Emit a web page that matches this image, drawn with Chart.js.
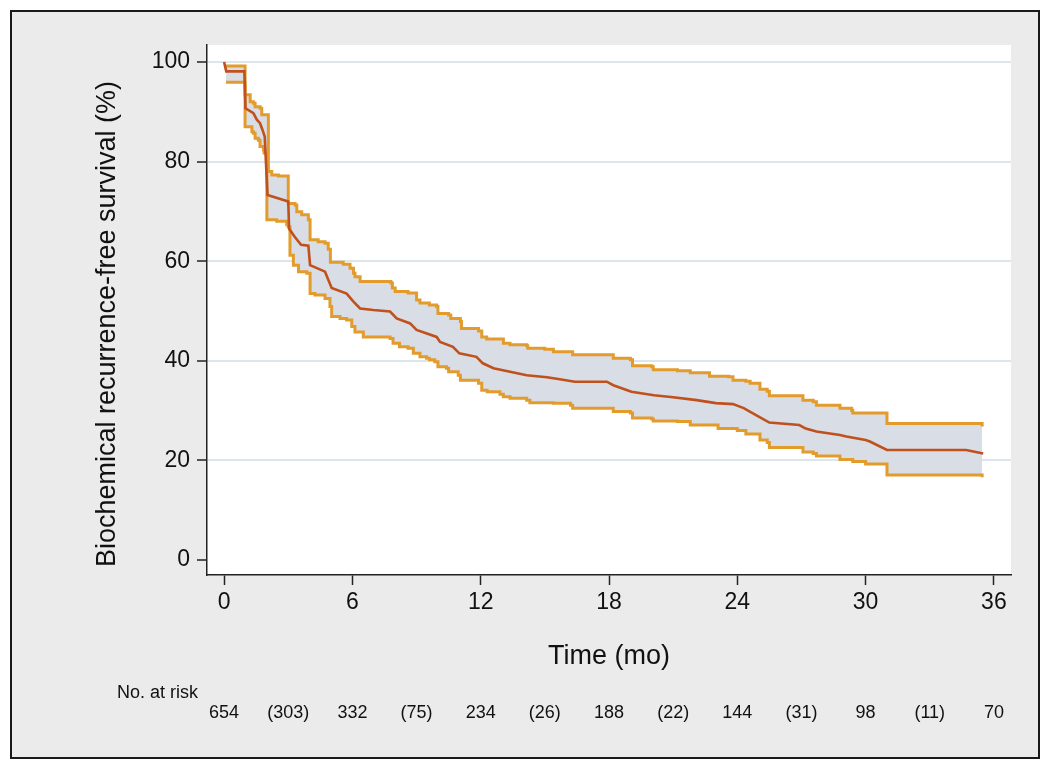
<!DOCTYPE html>
<html>
<head>
<meta charset="utf-8">
<script src="https://cdn.jsdelivr.net/npm/chart.js@4.4.0/dist/chart.umd.min.js"></script>
<style>
  html, body { margin: 0; padding: 0; background: #fff; }
  canvas { display: block; }
</style>
</head>
<body>
<canvas id="km" width="1050" height="771"></canvas>
<script>
// Kaplan-Meier estimate (time in months, survival in %)
const survTime = [0, 0.1, 0.95, 1.0, 1.37, 1.53, 1.68, 1.8, 1.9, 2.03, 3.0, 3.04, 3.3, 3.6, 3.94, 4.02, 4.72, 5.03, 5.73, 6.05, 6.36, 6.98, 7.76, 8.07, 8.7, 9.0, 9.94, 10.1, 10.7, 11.0, 11.8, 12.1, 12.6, 13.37, 14.15, 15.1, 15.7, 16.4, 17.9, 18.2, 19.05, 20.1, 21.0, 22.1, 23.0, 23.8, 24.3, 25.0, 25.5, 26.9, 27.2, 27.7, 28.8, 29.1, 30.0, 30.2, 31.0, 34.7, 35.5];
const survPct = [100, 98.1, 98.1, 90.7, 89.7, 88.4, 87.7, 86.3, 85.0, 73.3, 72.0, 66.5, 64.9, 63.3, 63.1, 59.2, 57.9, 54.6, 53.5, 51.9, 50.5, 50.2, 49.9, 48.5, 47.5, 46.2, 44.8, 43.8, 42.8, 41.5, 40.8, 39.5, 38.5, 37.8, 37.1, 36.7, 36.3, 35.8, 35.8, 35.1, 33.8, 33.1, 32.7, 32.1, 31.5, 31.3, 30.5, 28.8, 27.6, 27.1, 26.4, 25.8, 25.1, 24.8, 24.1, 23.8, 22.1, 22.1, 21.4];

// 95% CI, upper bound (step points: time of drop, value after)
const upperTime = [0.09, 0.98, 1.22, 1.37, 1.45, 1.68, 1.76, 2.07, 2.23, 2.54, 3.0, 3.32, 3.4, 3.63, 3.94, 4.02, 4.4, 4.72, 4.87, 4.97, 5.57, 5.89, 6.05, 6.12, 6.36, 7.8, 7.87, 8.0, 8.6, 9.0, 9.16, 9.6, 9.94, 10.0, 10.5, 10.6, 11.05, 11.1, 11.9, 12.05, 12.28, 13.06, 13.37, 14.15, 14.2, 15.0, 15.4, 16.3, 18.2, 19.0, 19.1, 20.0, 20.07, 21.2, 21.8, 22.7, 23.6, 23.8, 24.4, 24.6, 25.06, 25.4, 25.5, 27.07, 27.55, 27.7, 28.8, 29.35, 29.4, 31.0, 35.4, 35.45];
const upperPct = [99.2, 93.4, 92.0, 91.7, 91.0, 90.7, 89.4, 78.0, 77.3, 77.1, 71.6, 71.3, 69.9, 69.3, 68.3, 64.3, 63.9, 63.6, 62.4, 59.8, 59.4, 58.6, 57.6, 56.9, 55.9, 55.6, 54.6, 53.9, 53.6, 52.2, 51.6, 51.2, 50.9, 49.5, 49.2, 48.5, 47.9, 46.5, 46.0, 44.8, 44.4, 43.5, 43.2, 43.0, 42.5, 42.3, 41.8, 41.2, 40.5, 40.2, 39.0, 38.8, 38.2, 38.0, 37.6, 36.9, 36.8, 36.1, 35.9, 35.5, 34.3, 33.9, 33.0, 32.1, 31.8, 31.1, 30.5, 30.0, 29.5, 27.4, 27.4, 26.8];

// 95% CI, lower bound
const lowerTime = [0.09, 0.98, 1.3, 1.37, 1.45, 1.6, 1.68, 1.84, 1.87, 2.0, 2.46, 2.93, 3.0, 3.08, 3.24, 3.48, 3.87, 4.02, 4.25, 4.72, 4.95, 5.03, 5.42, 5.73, 5.97, 6.12, 6.51, 7.76, 7.9, 8.2, 8.6, 8.85, 9.16, 9.47, 9.6, 9.85, 10.0, 10.4, 10.5, 10.95, 11.05, 11.9, 12.05, 12.3, 12.9, 13.06, 13.37, 14.15, 14.3, 15.4, 16.2, 16.3, 18.2, 19.0, 19.1, 20.0, 20.07, 21.2, 21.8, 23.1, 24.0, 24.4, 25.06, 25.4, 25.5, 27.07, 27.55, 27.7, 28.8, 29.4, 30.0, 31.0, 35.4, 35.45];
const lowerPct = [95.9, 87.0, 86.0, 85.7, 84.7, 84.3, 83.0, 82.3, 81.7, 68.3, 68.0, 67.3, 66.9, 61.2, 59.2, 57.9, 57.6, 53.5, 53.2, 52.5, 50.9, 48.9, 48.5, 48.2, 46.9, 45.8, 44.8, 44.5, 43.5, 42.8, 42.5, 41.5, 40.8, 40.5, 40.2, 39.8, 38.8, 38.5, 37.8, 37.1, 36.1, 35.5, 34.1, 33.8, 33.3, 32.8, 32.5, 32.1, 31.6, 31.5, 31.1, 30.5, 29.8, 29.5, 28.5, 28.3, 27.9, 27.8, 27.1, 26.4, 26.0, 25.3, 24.1, 23.6, 22.6, 21.7, 21.4, 20.9, 20.2, 19.8, 19.3, 17.1, 17.1, 16.6];

const xTicks = [0, 6, 12, 18, 24, 30, 36];
const yTicks = [0, 20, 40, 60, 80, 100];

// number at risk (censored in brackets)
const riskTimes = [0, 3, 6, 9, 12, 15, 18, 21, 24, 27, 30, 33, 36];
const riskLabels = ['654', '(303)', '332', '(75)', '234', '(26)', '188', '(22)', '144', '(31)', '98', '(11)', '70'];

const FONT = '"Liberation Sans", Arial, Helvetica, sans-serif';
const yTitle = 'Biochemical recurrence-free survival (%)';
const toXY = (ts, vs) => ts.map((t, i) => ({ x: t, y: vs[i] }));

const kmBackdrop = {
    id: 'kmBackdrop',
    beforeDraw(chart) {
        const { ctx, chartArea: { left, top, right, bottom } } = chart;
        ctx.save();
        ctx.fillStyle = '#ebebeb';
        ctx.fillRect(11, 11, 1028, 747);
        ctx.strokeStyle = '#1a1a1a';
        ctx.lineWidth = 2;
        ctx.strokeRect(11, 11, 1028, 747);
        ctx.fillStyle = '#ffffff';
        ctx.fillRect(left, top, right - left, bottom - top);
        ctx.restore();
    },
    afterDraw(chart) {
        const { ctx, scales: { x } } = chart;
        ctx.save();
        ctx.fillStyle = '#111';

        // y axis title, sits a bit lower than the plot centre
        ctx.font = '27px ' + FONT;
        ctx.textAlign = 'center';
        ctx.textBaseline = 'middle';
        ctx.translate(108, 324);
        ctx.rotate(-Math.PI / 2);
        ctx.fillText(yTitle, 0, 0);
        ctx.setTransform(1, 0, 0, 1, 0, 0);

        // risk table
        ctx.font = '18px ' + FONT;
        ctx.textAlign = 'left';
        ctx.fillText('No. at risk', 117, 693);
        ctx.textAlign = 'center';
        riskTimes.forEach((t, i) => {
            ctx.fillText(riskLabels[i], x.getPixelForValue(t), 713);
        });
        ctx.restore();
    }
};

new Chart(document.getElementById('km'), {
    type: 'line',
    data: {
        datasets: [
            {
                label: 'KM',
                data: toXY(survTime, survPct),
                borderColor: '#c0501c',
                borderWidth: 2.6,
                pointRadius: 0,
                fill: false,
                order: 0
            },
            {
                label: 'Upper',
                data: toXY(upperTime, upperPct),
                borderColor: '#e39b2c',
                backgroundColor: '#d8dde6',
                borderWidth: 3,
                stepped: true,
                pointRadius: 0,
                fill: '+1',
                order: 1
            },
            {
                label: 'Lower',
                data: toXY(lowerTime, lowerPct),
                borderColor: '#e39b2c',
                borderWidth: 3,
                stepped: true,
                pointRadius: 0,
                fill: false,
                order: 2
            }
        ]
    },
    options: {
        responsive: false,
        animation: false,
        layout: { padding: { top: 45, right: 39, bottom: 96, left: 0 } },
        plugins: {
            legend: { display: false },
            tooltip: { enabled: false },
            filler: { drawTime: 'beforeDatasetsDraw' }
        },
        scales: {
            x: {
                type: 'linear',
                min: -0.8,
                max: 36.8,
                afterBuildTicks: s => { s.ticks = xTicks.map(v => ({ value: v })); },
                afterFit: s => { s.height = 100; },
                grid: { drawOnChartArea: false, tickLength: 10, tickColor: '#222', tickWidth: 1.5 },
                border: { color: '#222', width: 1.5 },
                ticks: { color: '#111', font: { family: FONT, size: 23 }, padding: 4, maxRotation: 0 },
                title: {
                    display: true,
                    text: 'Time (mo)',
                    color: '#111',
                    font: { family: FONT, size: 27 },
                    padding: { top: 0, bottom: 2 }
                }
            },
            y: {
                min: -3,
                max: 103.4,
                afterBuildTicks: s => { s.ticks = yTicks.map(v => ({ value: v })); },
                afterFit: s => { s.width = 207; },
                grid: {
                    color: c => (c.tick && c.tick.value === 0) ? 'rgba(0,0,0,0)' : '#dde6ea',
                    lineWidth: 2,
                    tickLength: 10,
                    tickColor: '#222',
                    tickWidth: 1.5
                },
                border: { color: '#222', width: 1.5 },
                ticks: { color: '#111', font: { family: FONT, size: 23 }, padding: 7 }
            }
        }
    },
    plugins: [kmBackdrop]
});
</script>
</body>
</html>
